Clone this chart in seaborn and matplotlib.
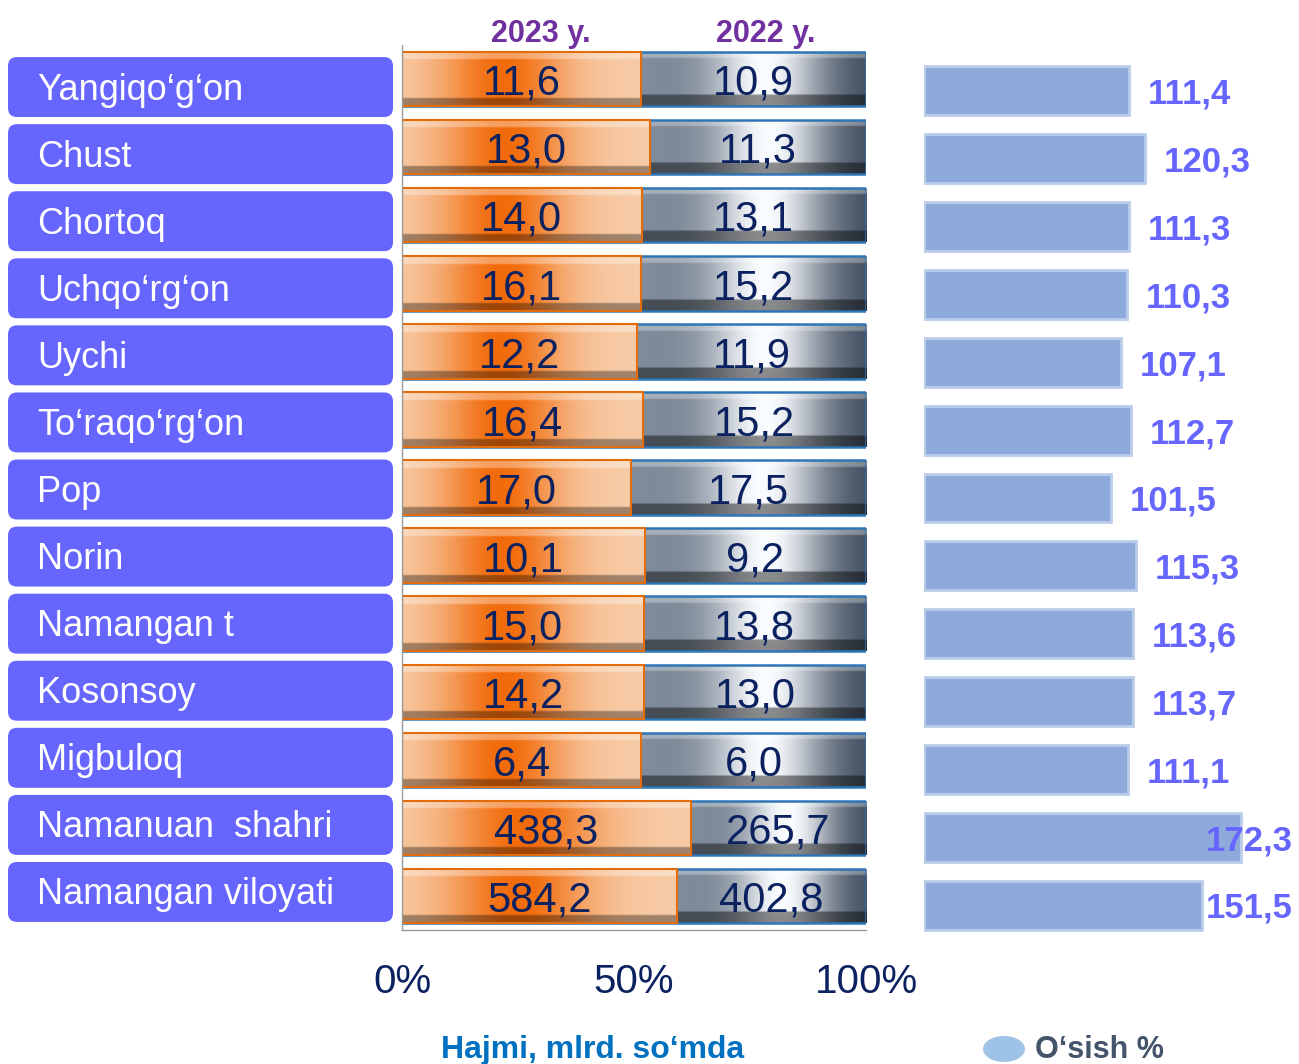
"""
Namangan viloyati: hajmi (2023 y. vs 2022 y.) va o'sish %
"""

import numpy as np
import matplotlib
matplotlib.use("Agg")
import matplotlib.pyplot as plt
import seaborn as sns
from matplotlib.patches import FancyBboxPatch, Ellipse

sns.set_style("white")
plt.rcParams['font.family'] = ['Liberation Sans', 'DejaVu Sans']

# ---------------------------------------------------------------------------
# data
# ---------------------------------------------------------------------------
regions = ["Yangiqo‘g‘on", "Chust", "Chortoq", "Uchqo‘rg‘on", "Uychi",
           "To‘raqo‘rg‘on", "Pop", "Norin", "Namangan t", "Kosonsoy",
           "Migbuloq", "Namanuan  shahri", "Namangan viloyati"]
v2023 = [11.6, 13.0, 14.0, 16.1, 12.2, 16.4, 17.0, 10.1, 15.0, 14.2, 6.4, 438.3, 584.2]
v2022 = [10.9, 11.3, 13.1, 15.2, 11.9, 15.2, 17.5, 9.2, 13.8, 13.0, 6.0, 265.7, 402.8]
growth = [111.4, 120.3, 111.3, 110.3, 107.1, 112.7, 101.5, 115.3, 113.6, 113.7, 111.1, 172.3, 151.5]
pct_ticks = [0, 0.5, 1.0]
pct_labels = ["0%", "50%", "100%"]
year_labels = ["2023 y.", "2022 y."]

share23 = np.array(v2023) / (np.array(v2023) + np.array(v2022))
full = np.ones(len(regions))
n = len(regions)


def fmt(v):
    return f"{v:.1f}".replace(".", ",")


W, H = 1299, 1064
fig = plt.figure(figsize=(W / 100, H / 100), dpi=100)


def px_axes(x0, y0, x1, y1):
    return fig.add_axes([x0 / W, 1 - y1 / H, (x1 - x0) / W, (y1 - y0) / H])


# gradient fills for the "bevel" look
t = np.linspace(0, 1, 256)


def bevel(profile, M=48, top=0.13, bottom=0.13, light=0.35, dark=0.35):
    img = np.repeat(profile[None, :, :], M, axis=0)
    v = np.linspace(0, 1, M)[:, None, None]
    img = np.where(v < top, img + (1 - img) * light, img)
    img = np.where(v > 1 - bottom, img * (1 - dark), img)
    return np.clip(img, 0, 1)


m = np.exp(-((t - 0.42) / 0.26) ** 2)[:, None]
orange_img = bevel(np.array([0.97, 0.80, 0.66]) * (1 - m) + np.array([0.95, 0.42, 0.04]) * m)

base = np.array([0.50, 0.55, 0.61]) * (1 - t)[:, None] + np.array([0.25, 0.30, 0.37]) * t[:, None]
w = np.exp(-((t - 0.55) / 0.25) ** 2)[:, None]
gray_img = bevel(base * (1 - w) + np.array([0.98, 0.99, 1.0]) * w,
                 top=0.12, bottom=0.2, light=0.3, dark=0.45)


def shade(ax, patch, img, x0, x1, z):
    y0 = patch.get_y()
    y1 = y0 + patch.get_height()
    im = ax.imshow(img, extent=(x0, x1, y1, y0), aspect='auto',
                   interpolation='bicubic', zorder=z)
    im.set_clip_path(patch)
    patch.set_facecolor('none')
    patch.set_zorder(z + 0.1)


# ============================================================================
# LEFT: region name boxes
# ============================================================================
axl = px_axes(0, 53.5, 400, 925.5)
axl.set_xlim(0, 400)
axl.set_ylim(n - 0.5, -0.5)
axl.axis('off')
row_px = 872 / n
for i, name in enumerate(regions):
    box = FancyBboxPatch((8, i - 0.447), 385, 0.894,
                         boxstyle="round,pad=0,rounding_size=9",
                         mutation_aspect=1 / row_px,
                         fc='#6666ff', ec='none')
    axl.add_patch(box)
    axl.text(37, i + 0.045, name, color='white', fontsize=26, va='center', ha='left')

# ============================================================================
# MIDDLE: 100% stacked bars
# ============================================================================
ax = px_axes(402, 45, 866, 930)
sns.barplot(x=full, y=regions, orient='h', color='#7f8a96', saturation=1,
            width=0.8, edgecolor='#2e75b6', linewidth=1.8, ax=ax)
gray_patches = list(ax.patches)
sns.barplot(x=share23, y=regions, orient='h', color='#f39a50', saturation=1,
            width=0.8, edgecolor='#e46c0a', linewidth=1.5, ax=ax)
orange_patches = list(ax.patches)[n:]

for p, s in zip(gray_patches, share23):
    shade(ax, p, gray_img, s, 1.0, 1.0)
for p, s in zip(orange_patches, share23):
    shade(ax, p, orange_img, 0, s, 2.0)

for i, (s, a, b) in enumerate(zip(share23, v2023, v2022)):
    ax.text(s / 2, i + 0.07, fmt(a), ha='center', va='center', fontsize=30,
            color='#0b2160', zorder=3)
    ax.text((1 + s) / 2, i + 0.07, fmt(b), ha='center', va='center', fontsize=30,
            color='#0b2160', zorder=3)

ax.text(0.30, 1.012, year_labels[0], transform=ax.transAxes, ha='center',
        va='center', fontsize=22, fontweight='bold', color='#7030a0')
ax.text(0.785, 1.012, year_labels[1], transform=ax.transAxes, ha='center',
        va='center', fontsize=22, fontweight='bold', color='#7030a0')

ax.set_xlim(0, 1)
ax.set_ylim(n - 0.5, -0.5)
ax.set_xticks(pct_ticks)
ax.set_xticklabels(pct_labels)
ax.set_yticks(np.arange(n + 1) - 0.5)
ax.set_yticklabels([])
ax.set_xlabel('')
ax.set_ylabel('')
ax.tick_params(axis='x', direction='out', length=8, width=1, color='#9a9a9a',
               pad=16, labelsize=29, labelcolor='#0b2160')
ax.tick_params(axis='y', direction='out', length=5, width=1, color='#9a9a9a')
for side in ['top', 'right']:
    ax.spines[side].set_visible(False)
for side in ['left', 'bottom']:
    ax.spines[side].set_color('#9a9a9a')
    ax.spines[side].set_linewidth(1)

# ============================================================================
# RIGHT: growth %
# ============================================================================
axr = px_axes(924, 57, 1299, 939)
sns.barplot(x=growth, y=regions, orient='h', color='#8eaadb', saturation=1,
            width=0.72, edgecolor='#bccdea', linewidth=2, ax=axr)
for i, g in enumerate(growth):
    axr.text(min(g + 10.3, 153), i + 0.05, fmt(g), ha='left', va='center',
             fontsize=25, fontweight='bold', color='#6666ff')
axr.set_xlim(0, 204)
axr.set_ylim(n - 0.5, -0.5)
axr.axis('off')

# ============================================================================
# bottom captions
# ============================================================================
fig.text(593 / W, 1 - 1050 / H, "Hajmi, mlrd. so‘mda", ha='center', va='center',
         fontsize=23, fontweight='bold', color='#0070c0')
fig.add_artist(Ellipse((1004 / W, 1 - 1049 / H), 42 / W, 26 / H,
                       transform=fig.transFigure, fc='#9dc3e6', ec='none'))
fig.text(1035 / W, 1 - 1050 / H, "O‘sish %", ha='left', va='center',
         fontsize=22, fontweight='bold', color='#44546a')

fig.savefig('out.png', dpi=100)
